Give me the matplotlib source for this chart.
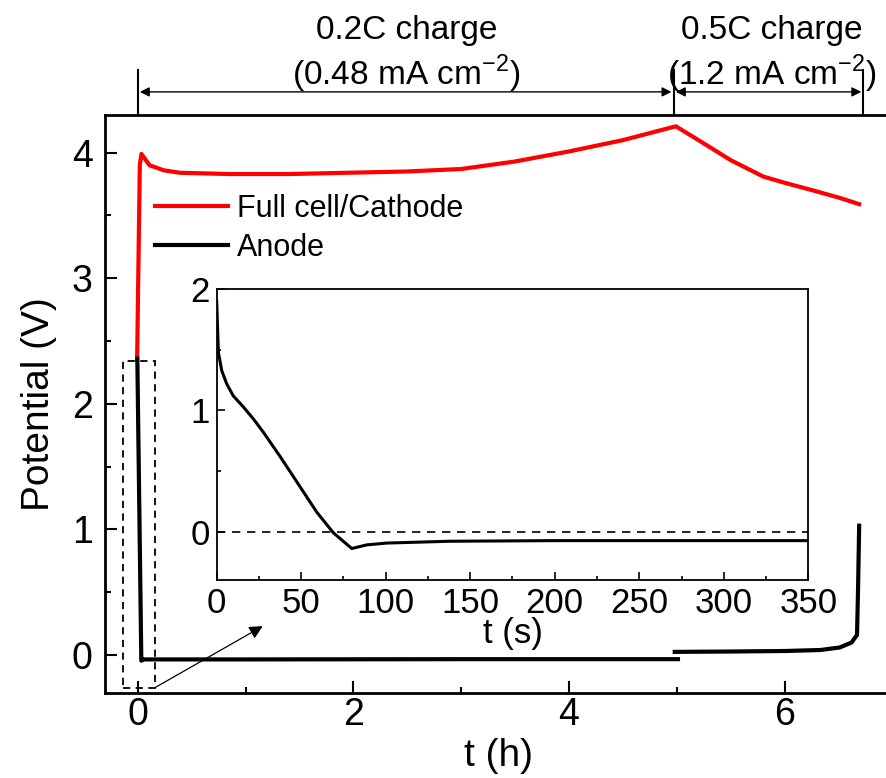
import matplotlib
matplotlib.use("Agg")
import matplotlib.pyplot as plt
from matplotlib.patches import Rectangle

plt.rcParams['font.family'] = ['Liberation Sans', 'DejaVu Sans']
plt.rcParams['mathtext.fontset'] = 'custom'
plt.rcParams['mathtext.rm'] = 'Liberation Sans'

# Full cell / cathode potential (h, V)
cell_t = [-0.005, 0.02, 0.035, 0.11, 0.24, 0.39, 0.85, 1.41, 1.94, 2.49, 3.0, 3.5,
          4.0, 4.5, 4.99, 5.2, 5.5, 5.8, 6.0, 6.26, 6.51, 6.69]
cell_v = [2.35, 3.90, 3.99, 3.90, 3.86, 3.84, 3.83, 3.83, 3.84, 3.85, 3.87, 3.93,
          4.01, 4.10, 4.21, 4.10, 3.94, 3.81, 3.76, 3.70, 3.64, 3.59]

# Anode potential, 0.2C segment and 0.5C segment (h, V)
anode1_t = [-0.003, 0.034, 0.06, 1.0, 3.0, 5.01]
anode1_v = [2.36, -0.045, -0.035, -0.035, -0.033, -0.033]
anode2_t = [4.98, 5.5, 6.0, 6.33, 6.51, 6.62, 6.67, 6.68, 6.69]
anode2_v = [0.025, 0.028, 0.032, 0.04, 0.06, 0.10, 0.16, 0.54, 1.03]

# Anode potential during the first seconds (s, V)
early_t = [0, 0.99, 2.96, 5.9, 9.8, 15.7, 21.7, 27.6, 37.5, 49.3, 59.2, 69.0,
           79.9, 88.8, 100.6, 138, 200, 350]
early_v = [1.90, 1.48, 1.33, 1.22, 1.12, 1.03, 0.93, 0.82, 0.62, 0.37, 0.16, -0.01,
           -0.14, -0.11, -0.095, -0.08, -0.075, -0.075]

# Charging stages
stage_edges = [0.0, 4.97, 6.73]
stage_names = ["0.2C charge", "0.5C charge"]
stage_currents = ["(0.48 mA cm$^{\\mathregular{\u22122}}$)",
                  "(1.2 mA cm$^{\\mathregular{\u22122}}$)"]
stage_text_x = [2.49, 5.88]

main_xticks = [0, 2, 4, 6]
main_yticks = [0, 1, 2, 3, 4]
inset_xticks = [0, 50, 100, 150, 200, 250, 300, 350]
inset_yticks = [0, 1, 2]

W, H = 887, 778
fig = plt.figure(figsize=(W / 100, H / 100), dpi=100)
ax = fig.add_axes([105.3 / W, 1 - 692.7 / H, 787.3 / W, 577.7 / H])

ax.plot(cell_t, cell_v, color='red', lw=3.0, label='Full cell/Cathode', zorder=3)
ax.plot(anode1_t, anode1_v, color='black', lw=3.0, label='Anode', zorder=4)
ax.plot(anode2_t, anode2_v, color='black', lw=3.0, zorder=4)

ax.set_xlim(-0.3, 7.0)
ax.set_ylim(-0.3, 4.3)
ax.set_xticks(main_xticks)
ax.set_yticks(main_yticks)
ax.set_xticks([1, 3, 5], minor=True)
ax.set_yticks([0.5 + i for i in range(4)], minor=True)
ax.tick_params(which='both', direction='in', width=1.5, labelsize=27,
               top=False, right=False)
ax.tick_params(which='major', length=8.5)
ax.tick_params(which='minor', length=4.3)
ax.tick_params(axis='y', pad=9)
ax.tick_params(axis='x', pad=3)
for s in ax.spines.values():
    s.set_linewidth(2.0)
ax.set_xlabel('t (h)', fontsize=28, labelpad=4)
ax.set_ylabel('Potential (V)', fontsize=28, labelpad=11)

leg = ax.legend(loc='upper left', bbox_to_anchor=(0.063, 0.864), frameon=False,
                fontsize=22, handlelength=2.4, handletextpad=0.3,
                labelspacing=0.3, borderpad=0, borderaxespad=0)

# Region of the early anode curve shown in the inset
ax.add_patch(Rectangle((-0.14, -0.26), 0.30, 2.60, fill=False, ls=(0, (4, 3)),
                       lw=1.3, ec='black', zorder=5))
ax.annotate('', xy=(1.16, 0.23), xytext=(0.16, -0.26),
            arrowprops=dict(arrowstyle='-|>', color='black', lw=0.9,
                            mutation_scale=20, shrinkA=0, shrinkB=0))

# Stage markers above the plot
trans = ax.get_xaxis_transform()
for x in stage_edges:
    ax.plot([x, x], [1.0, 1.078], transform=trans, color='black', lw=1.5,
            clip_on=False)
for x0, x1 in zip(stage_edges[:-1], stage_edges[1:]):
    ax.annotate('', xy=(x1 - 0.02, 1.040), xytext=(x0 + 0.02, 1.040),
                xycoords=trans, textcoords=trans,
                arrowprops=dict(arrowstyle='<|-|>', color='black', lw=1.0,
                                mutation_scale=14, shrinkA=0, shrinkB=0))
for x, name, cur in zip(stage_text_x, stage_names, stage_currents):
    ax.text(x, 1.146, name, transform=trans, ha='center', va='center',
            fontsize=24)
    ax.text(x, 1.072, cur, transform=trans, ha='center', va='center',
            fontsize=24)

# Inset
axin = fig.add_axes([216.7 / W, 1 - 580 / H, 591.6 / W, 290.7 / H])
axin.plot(early_t, early_v, color='black', lw=2.2)
axin.axhline(0, color='black', lw=1.2, ls=(0, (5, 4)))
axin.set_xlim(0, 350)
axin.set_ylim(-0.4, 2.0)
axin.set_xticks(inset_xticks)
axin.set_yticks(inset_yticks)
axin.set_xticks([25 + 50 * i for i in range(7)], minor=True)
axin.set_yticks([0.5, 1.5], minor=True)
axin.tick_params(which='both', direction='in', width=1.2, labelsize=25,
                 top=False, right=False, pad=5)
axin.tick_params(which='major', length=6)
axin.tick_params(which='minor', length=3)
for s in axin.spines.values():
    s.set_linewidth(1.3)
axin.set_xlabel('t (s)', fontsize=25, labelpad=-2)

fig.savefig('out.png', dpi=100)
